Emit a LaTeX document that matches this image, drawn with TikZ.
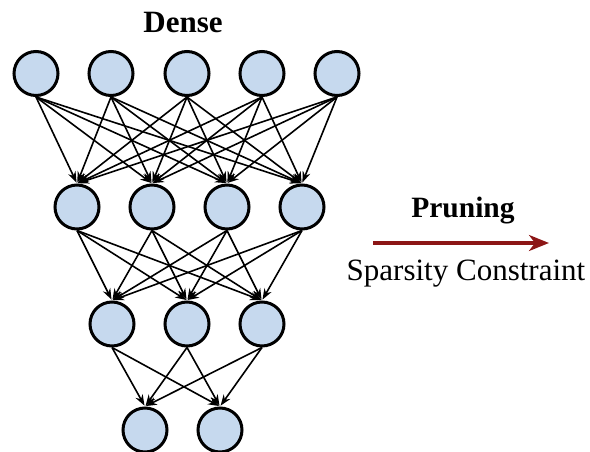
\documentclass[tikz,border=0pt]{standalone}
\usepackage{fontspec}
\setmainfont{Liberation Serif}
\usetikzlibrary{arrows.meta}
\definecolor{neuronfill}{RGB}{198,217,238}
\definecolor{prunered}{RGB}{140,22,22}
\begin{document}
\begin{tikzpicture}[x=1pt,y=-1pt,
  neuron/.style={circle,draw=black,line width=3pt,fill=neuronfill,minimum size=44pt,inner sep=0pt},
  link/.style={line width=1.6pt,-{Stealth[length=11pt,width=8pt]},shorten >=1pt}]
  \useasboundingbox (0,0) rectangle (590,452);

  % input layer
  \foreach \i/\x in {1/36,2/111,3/187,4/262,5/337}
    \node[neuron] (a\i) at (\x,73.5) {};
  % first hidden layer
  \foreach \i/\x in {1/77,2/152,3/227,4/302}
    \node[neuron] (b\i) at (\x,207) {};
  % second hidden layer
  \foreach \i/\x in {1/112,2/187,3/262}
    \node[neuron] (c\i) at (\x,324) {};
  % output layer
  \foreach \i/\x in {1/145,2/220}
    \node[neuron] (d\i) at (\x,430) {};

  % fully connected edges
  \foreach \i in {1,...,5}
    \foreach \j in {1,...,4}
      \draw[link] (a\i.south) -- (b\j.north);
  \foreach \i in {1,...,4}
    \foreach \j in {1,...,3}
      \draw[link] (b\i.south) -- (c\j.north);
  \foreach \i in {1,...,3}
    \foreach \j in {1,...,2}
      \draw[link] (c\i.south) -- (d\j.north);

  \node[font=\fontsize{31}{34}\selectfont\bfseries,anchor=base] (title) at (183,33) {Dense};

  % pruning step
  \coordinate (ps) at (373,243);
  \coordinate (pe) at (549,243);
  \draw[prunered,line width=3.2pt,-{Stealth[length=20pt,width=16pt,inset=6pt]}] (ps) -- (pe);
  \node[font=\fontsize{29.5}{34}\selectfont\bfseries,anchor=base] (prune) at (463,217) {Pruning};
  \node[font=\fontsize{31}{34}\selectfont,anchor=base] (sparse) at (466,280) {Sparsity Constraint};
\end{tikzpicture}
\end{document}
